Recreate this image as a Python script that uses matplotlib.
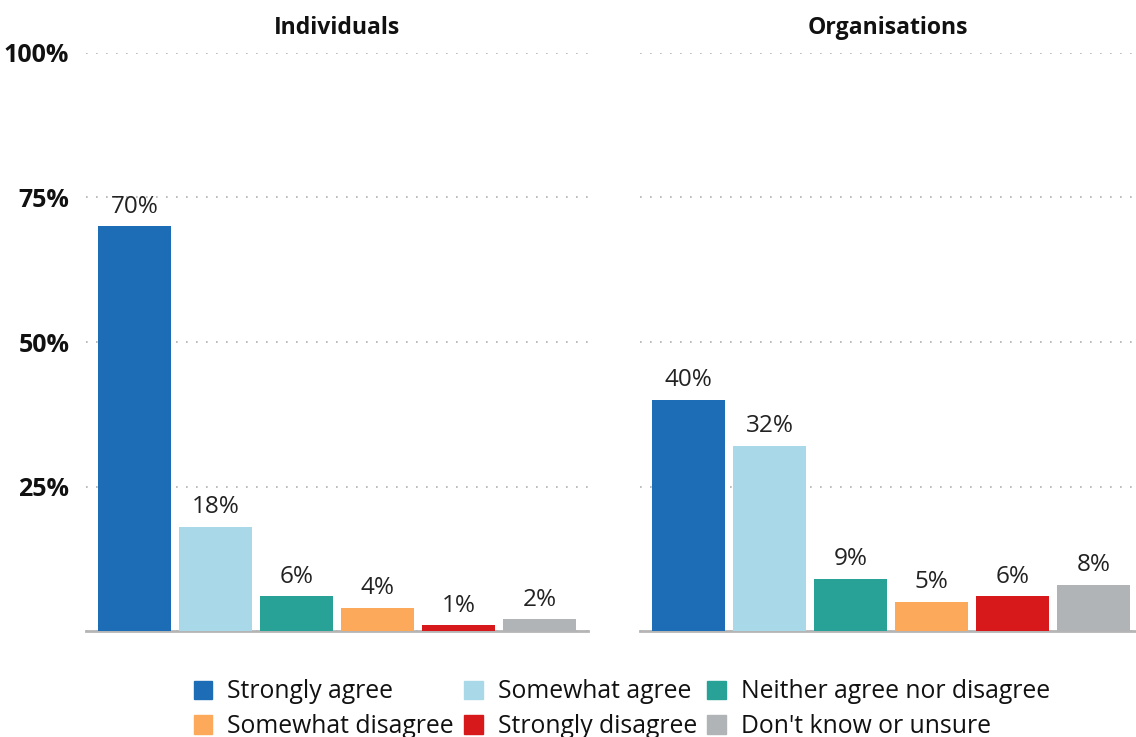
import numpy as np
import matplotlib.pyplot as plt
from matplotlib.patches import Patch

plt.rcParams.update({
    'font.family': ['Open Sans', 'DejaVu Sans'],
    'font.size': 15,
})

# survey responses (percent)
responses = ['Strongly agree', 'Somewhat agree', 'Neither agree nor disagree',
             'Somewhat disagree', 'Strongly disagree', "Don't know or unsure"]
individuals = [70, 18, 6, 4, 1, 2]
organisations = [40, 32, 9, 5, 6, 8]
colours = ['#1d6db6', '#a9d8e8', '#28a197', '#fda95b', '#d7191c', '#b1b4b6']

fig = plt.figure(figsize=(11.36, 7.37), dpi=100)
ax1 = fig.add_axes([0.0757, 0.1438, 0.4419, 0.7843])
ax2 = fig.add_axes([0.5634, 0.1438, 0.4366, 0.7843])

x = np.arange(len(responses))

for ax, vals, title, xmax in [(ax1, individuals, 'Individuals', 5.6),
                              (ax2, organisations, 'Organisations', 5.525)]:
    ax.bar(x, vals, width=0.9, color=colours, zorder=3)
    for xi, v in zip(x, vals):
        ax.annotate(f'{v}%', (xi, v), xytext=(0, 5.5), textcoords='offset points',
                    ha='center', va='bottom', fontsize=17.5, color='#222222')
    ax.set_xlim(-0.6, xmax)
    ax.set_ylim(0, 100)
    ax.set_yticks([0, 25, 50, 75, 100])
    ax.yaxis.grid(True, linestyle=(0, (1, 5)), color='#b0b0b0', linewidth=1.2)
    ax.set_axisbelow(True)
    ax.set_xticks([])
    for s in ['top', 'right', 'left']:
        ax.spines[s].set_visible(False)
    ax.spines['bottom'].set_color('#b5b5b5')
    ax.spines['bottom'].set_linewidth(2)
    ax.tick_params(axis='y', length=0, pad=12)
    ax.set_title(title, fontsize=16.6, fontweight='bold', pad=14, color='#111111')

ax1.set_yticklabels(['', '25%', '50%', '75%', '100%'], fontsize=18,
                    fontweight='bold', color='#111111')
ax2.set_yticklabels([])

# legend filled row by row
handles = [Patch(color=c, label=r) for c, r in zip(colours, responses)]
order = [0, 3, 1, 4, 2, 5]
fig.legend([handles[i] for i in order], [responses[i] for i in order],
           loc='lower left', bbox_to_anchor=(0.151, -0.033), ncol=3,
           frameon=False, fontsize=17.8, handlelength=0.75, handleheight=0.75,
           handletextpad=0.6, columnspacing=0.42, labelspacing=0.4,
           labelcolor='#111111')

fig.savefig('out.png', dpi=100)
